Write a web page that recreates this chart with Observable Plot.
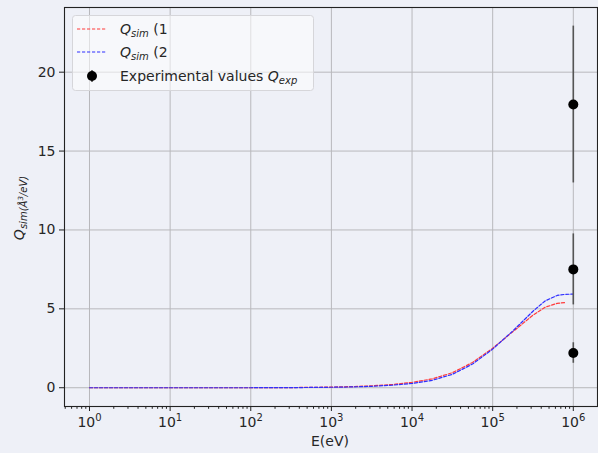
<!DOCTYPE html>
<html><head><meta charset="utf-8">
<script src="https://cdn.jsdelivr.net/npm/d3@7"></script>
<script src="https://cdn.jsdelivr.net/npm/@observablehq/plot@0.6"></script>
<style>
body{margin:0;background:#eef0f7;}
#chart svg{background:#eef0f7;display:block;}
</style>
</head><body><div id="chart"></div>
<script>
// Simulation 1 (red)
const simE1 = [1, 3.16, 10, 31.6, 100, 316, 1000, 1778, 3162, 5623, 10000, 17783, 31623, 56234, 100000, 177828, 316228, 446684, 630957, 812831];
const simQ1 = [0, 0, 0, 0, 0, 0.01, 0.04, 0.07, 0.12, 0.2, 0.34, 0.56, 0.95, 1.6, 2.5, 3.55, 4.6, 5.1, 5.35, 5.4];
// Simulation 2 (blue)
const simE2 = [1, 3.16, 10, 31.6, 100, 316, 1000, 1778, 3162, 5623, 10000, 17783, 31623, 56234, 100000, 177828, 316228, 446684, 630957, 794328, 1000000];
const simQ2 = [0, 0, 0, 0, 0, 0.005, 0.03, 0.05, 0.09, 0.16, 0.27, 0.47, 0.85, 1.5, 2.45, 3.6, 4.85, 5.5, 5.85, 5.92, 5.93];
// Experimental values
const expE = [1000000, 1000000, 1000000];
const expQ = [17.95, 7.5, 2.2];
const expErr = [4.97, 2.25, 0.65];
// Axis ticks
const xMajor = [1, 10, 100, 1000, 10000, 100000, 1000000];
const xMajorExp = ["0", "1", "2", "3", "4", "5", "6"];
const yTicks = [0, 5, 10, 15, 20];

const sim1 = simE1.map((e, i) => ({E: e, Q: simQ1[i]}));
const sim2 = simE2.map((e, i) => ({E: e, Q: simQ2[i]}));
const exp = expE.map((e, i) => ({E: e, Q: expQ[i], lo: expQ[i] - expErr[i], hi: expQ[i] + expErr[i]}));
const xMinor = [0.1, ...xMajor].flatMap(m => [2,3,4,5,6,7,8,9].map(k => k * m)).filter(v => v > 0.49 && v < 1.99e6);

const W = 598, H = 453;
const font = "DejaVu Sans, sans-serif";
const plot = Plot.plot({
  width: W, height: H,
  marginLeft: 64, marginRight: 1, marginTop: 7, marginBottom: 47,
  style: {background: "#eef0f7", fontFamily: font, fontSize: "14px", color: "#262626"},
  x: {type: "log", domain: [Math.pow(10, -0.31), Math.pow(10, 6.3)]},
  y: {domain: [-1.19, 24.1]},
  marks: [
    Plot.gridX(xMajor, {stroke: "#b8b8bc", strokeOpacity: 1, strokeWidth: 1}),
    Plot.gridY(yTicks, {stroke: "#b8b8bc", strokeOpacity: 1, strokeWidth: 1}),
    Plot.line(sim1, {x: "E", y: "Q", stroke: "#ff3b3b", strokeWidth: 1.2, strokeDasharray: "3.2,1.8"}),
    Plot.line(sim2, {x: "E", y: "Q", stroke: "#2f2fff", strokeWidth: 1.2, strokeDasharray: "3.2,1.8"}),
    Plot.ruleX(exp, {x: "E", y1: "lo", y2: "hi", stroke: "#555", strokeWidth: 1.6}),
    Plot.dot(exp, {x: "E", y: "Q", r: 5, fill: "black", stroke: "none"}),
    Plot.frame({stroke: "#222", strokeWidth: 1.1}),
    Plot.axisX(xMajor, {tickSize: 5, tickPadding: 6, tickFormat: d => "10" + xMajorExp[xMajor.indexOf(d)], fontSize: 14, label: null, stroke: "#222", ariaLabel: "x-major"}),
    Plot.axisX(xMinor, {tickSize: 2.8, tickFormat: () => "", label: null, stroke: "#222"}),
    Plot.axisY(yTicks, {tickSize: 5, tickPadding: 4, fontSize: 14, label: null, stroke: "#222"})
  ]
});
document.getElementById("chart").appendChild(plot);

const svg = d3.select(plot);
// Superscript exponents on x tick labels
svg.selectAll("g[aria-label='x-major'] text, g[aria-label='x-major tick label'] text").each(function() {
  const s = this.textContent;
  if (!s || s.length < 3) return;
  const base = s.slice(0, 2), ex = s.slice(2);
  const t = d3.select(this);
  t.text(null);
  t.append("tspan").text(base);
  t.append("tspan").attr("font-size", 10).attr("dy", -6).text(ex);
});
// X label
svg.append("text").attr("x", 330).attr("y", 446).attr("text-anchor", "middle")
  .attr("font-family", font).attr("font-size", 14).attr("fill", "#262626").text("E(eV)");
// Y label
const yl = svg.append("text").attr("transform", "translate(24,208) rotate(-90)").attr("text-anchor", "middle")
  .attr("font-family", font).attr("font-size", 14).attr("fill", "#262626");
yl.append("tspan").attr("font-style", "italic").text("Q");
yl.append("tspan").attr("font-size", 10).attr("dy", 3).attr("font-style", "italic").text("sim(Å");
yl.append("tspan").attr("font-size", 7).attr("dy", -4).attr("font-style", "italic").text("3");
yl.append("tspan").attr("font-size", 10).attr("dy", 4).attr("font-style", "italic").text("/eV)");

// Legend
const lg = svg.append("g").attr("font-family", font).attr("font-size", 14).attr("fill", "#262626").attr("text-anchor", "start");
lg.append("rect").attr("x", 72.5).attr("y", 15.5).attr("width", 241).attr("height", 75).attr("rx", 3)
  .attr("fill", "rgba(255,255,255,0.55)").attr("stroke", "#d6d6da");
const entries = [
  {y: 29, color: "#ff3b3b", type: "line", main: "Q", sub: "sim", rest: " (1"},
  {y: 52, color: "#2f2fff", type: "line", main: "Q", sub: "sim", rest: " (2"},
  {y: 76, color: "black", type: "dot", pre: "Experimental values ", main: "Q", sub: "exp", rest: ""}
];
entries.forEach(e => {
  if (e.type === "line") {
    lg.append("line").attr("x1", 77).attr("x2", 107).attr("y1", e.y).attr("y2", e.y)
      .attr("stroke", e.color).attr("stroke-width", 1.2).attr("stroke-dasharray", "3.2,1.8");
  } else {
    lg.append("line").attr("x1", 92).attr("x2", 92).attr("y1", e.y - 6).attr("y2", e.y + 6)
      .attr("stroke", "#555").attr("stroke-width", 1.6);
    lg.append("circle").attr("cx", 92).attr("cy", e.y).attr("r", 5).attr("fill", "black");
  }
  const t = lg.append("text").attr("x", 120).attr("y", e.y + 5).attr("text-anchor", "start");
  if (e.pre) t.append("tspan").text(e.pre);
  t.append("tspan").attr("font-style", "italic").text(e.main);
  t.append("tspan").attr("font-style", "italic").attr("font-size", 10).attr("dy", 3).text(e.sub);
  if (e.rest) t.append("tspan").attr("dy", -3).text(e.rest);
});
</script>
</body></html>
